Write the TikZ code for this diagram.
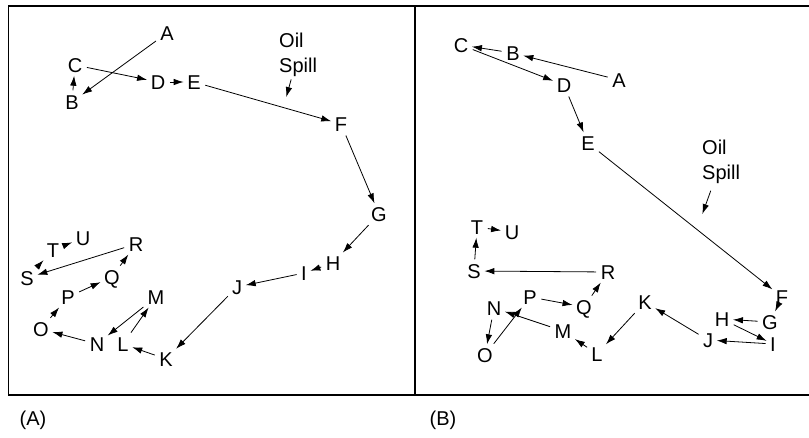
\documentclass[tikz,border=0pt]{standalone}
\usepackage{fontspec}
\setmainfont{Liberation Sans}
\usetikzlibrary{arrows.meta}

\begin{document}
\begin{tikzpicture}[x=1pt,y=-1pt,
pt/.style={font=\fontsize{20}{24}\selectfont,inner sep=2.5pt,text height=14pt,text depth=0pt},
spill/.style={font=\fontsize{20}{25}\selectfont,align=left,inner sep=1pt,anchor=west},
tag/.style={font=\fontsize{20}{24}\selectfont,inner sep=0pt},
arr/.style={-{Latex[length=10pt,width=6.5pt]},line width=0.8pt,shorten <=2pt,shorten >=1pt},
frame/.style={line width=1.8pt}
]
\useasboundingbox (0,0) rectangle (809,437);
% frame of the two panels
\draw[frame] (809,6) -- (8.5,6) -- (8.5,395) -- (809,395);
\draw[frame,line width=2.4pt] (415,6) -- (415,395);

% (A)
\node[pt] (lA) at (167,33) {A};
\node[pt] (lB) at (72,102) {B};
\node[pt] (lC) at (75,65) {C};
\node[pt] (lD) at (158,82) {D};
\node[pt] (lE) at (194,82) {E};
\node[pt] (lF) at (341,124) {F};
\node[pt] (lG) at (379,214) {G};
\node[pt] (lH) at (333,263) {H};
\node[pt] (lI) at (304,273) {I};
\node[pt] (lJ) at (237,287) {J};
\node[pt] (lK) at (166,359) {K};
\node[pt] (lL) at (123,344) {L};
\node[pt] (lM) at (156,297) {M};
\node[pt] (lN) at (97,344) {N};
\node[pt] (lO) at (41,329) {O};
\node[pt] (lP) at (68,297) {P};
\node[pt] (lQ) at (112,277) {Q};
\node[pt] (lR) at (136,244) {R};
\node[pt] (lS) at (27,278) {S};
\node[pt] (lT) at (53,250) {T};
\node[pt] (lU) at (83,238) {U};
\node[spill] (lspill) at (278,54.5) {Oil\\Spill};
\coordinate (lslick) at (286,98);
\draw[arr] (lA) -- (lB);
\draw[arr] (lB) -- (lC);
\draw[arr] (lC) -- (lD);
\draw[arr] (lD) -- (lE);
\draw[arr] (lE) -- (lF);
\draw[arr] (lF) -- (lG);
\draw[arr] (lG) -- (lH);
\draw[arr] (lH) -- (lI);
\draw[arr] (lI) -- (lJ);
\draw[arr] (lJ) -- (lK);
\draw[arr] (lK) -- (lL);
\draw[arr] (lL) -- (lM);
\draw[arr] (lM) -- (lN);
\draw[arr] (lN) -- (lO);
\draw[arr] (lO) -- (lP);
\draw[arr] (lP) -- (lQ);
\draw[arr] (lQ) -- (lR);
\draw[arr] (lR) -- (lS);
\draw[arr] (lS) -- (lT);
\draw[arr] (lT) -- (lU);
\draw[arr] (lspill) -- (lslick);

% (B)
\node[pt] (rA) at (619,80) {A};
\node[pt] (rB) at (513,53) {B};
\node[pt] (rC) at (461,45) {C};
\node[pt] (rD) at (564,85) {D};
\node[pt] (rE) at (588,143) {E};
\node[pt] (rF) at (782,297) {F};
\node[pt] (rG) at (770,322) {G};
\node[pt] (rH) at (722,319) {H};
\node[pt] (rI) at (773,344) {I};
\node[pt] (rJ) at (708,340) {J};
\node[pt] (rK) at (645,302) {K};
\node[pt] (rL) at (597,354) {L};
\node[pt] (rM) at (563,331) {M};
\node[pt] (rN) at (494,308) {N};
\node[pt] (rO) at (485,355) {O};
\node[pt] (rP) at (530,297) {P};
\node[pt] (rQ) at (584,307) {Q};
\node[pt] (rR) at (608,272) {R};
\node[pt] (rS) at (474,271) {S};
\node[pt] (rT) at (477,227) {T};
\node[pt] (rU) at (512,232) {U};
\node[spill] (rspill) at (701,162) {Oil\\Spill};
\coordinate (rslick) at (702,215);
\draw[arr] (rA) -- (rB);
\draw[arr] (rB) -- (rC);
\draw[arr] (rC) -- (rD);
\draw[arr] (rD) -- (rE);
\draw[arr] (rE) -- (rF);
\draw[arr] (rF) -- (rG);
\draw[arr] (rG) -- (rH);
\draw[arr] (rH) -- (rI);
\draw[arr] (rI) -- (rJ);
\draw[arr] (rJ) -- (rK);
\draw[arr] (rK) -- (rL);
\draw[arr] (rL) -- (rM);
\draw[arr] (rM) -- (rN);
\draw[arr] (rN) -- (rO);
\draw[arr] (rO) -- (rP);
\draw[arr] (rP) -- (rQ);
\draw[arr] (rQ) -- (rR);
\draw[arr] (rR) -- (rS);
\draw[arr] (rS) -- (rT);
\draw[arr] (rT) -- (rU);
\draw[arr,shorten <=6pt] (rspill) -- (rslick);

\node[tag] (capA) at (33,420) {(A)};
\node[tag] (capB) at (443,420) {(B)};
\end{tikzpicture}
\end{document}
